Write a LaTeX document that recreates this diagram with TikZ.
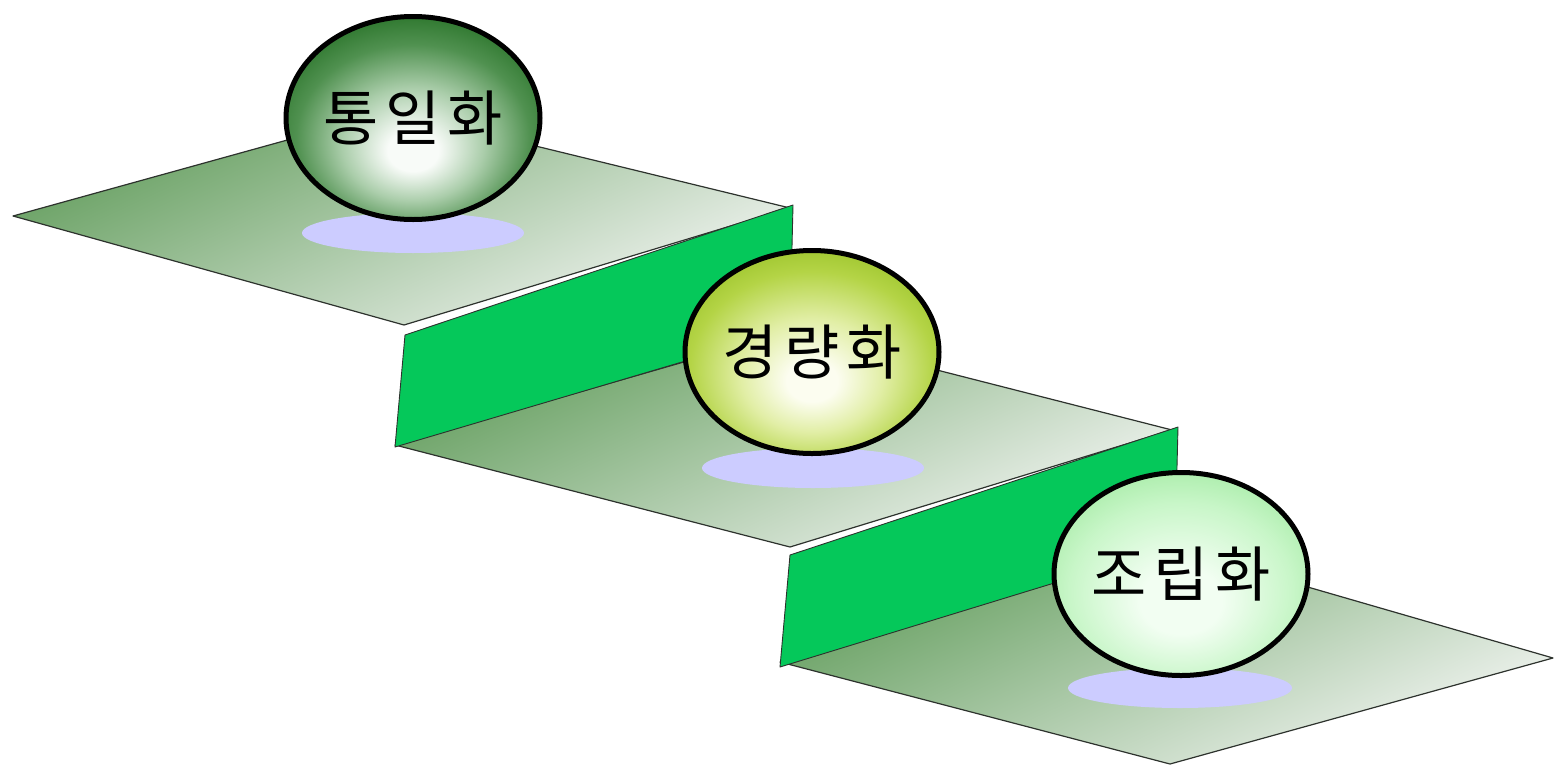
\documentclass[tikz,border=0pt]{standalone}
\usepackage{fontspec}
\newfontfamily\krfont{Noto Sans CJK KR}
\usetikzlibrary{shapes.geometric}
\definecolor{planedark}{RGB}{100,158,94}
\definecolor{planelight}{RGB}{243,245,243}
\definecolor{risergreen}{RGB}{5,200,90}
\definecolor{edgegray}{RGB}{45,50,45}
\definecolor{shadowblue}{RGB}{204,204,255}
\definecolor{aW}{RGB}{248,251,248}
\definecolor{aL}{RGB}{170,205,170}
\definecolor{aM}{RGB}{80,145,80}
\definecolor{aD}{RGB}{42,116,42}
\definecolor{aE}{RGB}{26,96,26}
\definecolor{bW}{RGB}{252,253,240}
\definecolor{bL}{RGB}{225,238,165}
\definecolor{bM}{RGB}{180,212,70}
\definecolor{bE}{RGB}{138,184,24}
\definecolor{cW}{RGB}{242,254,242}
\definecolor{cM}{RGB}{200,246,200}
\definecolor{cE}{RGB}{150,230,150}
\pgfdeclareradialshading{sphA}{\pgfpoint{0bp}{-9bp}}{color(0bp)=(aW); color(5bp)=(aW); color(14bp)=(aL); color(23bp)=(aM); color(30bp)=(aD); color(35bp)=(aE); color(50bp)=(aE)}
\pgfdeclareradialshading{sphB}{\pgfpoint{0bp}{-8bp}}{color(0bp)=(bW); color(5bp)=(bW); color(14bp)=(bL); color(24bp)=(bM); color(35bp)=(bE); color(50bp)=(bE)}
\pgfdeclareradialshading{sphC}{\pgfpoint{0bp}{-8bp}}{color(0bp)=(cW); color(8bp)=(cW); color(22bp)=(cM); color(35bp)=(cE); color(50bp)=(cE)}
\newcommand{\krgap}{\hspace{7pt}}
\begin{document}
\begin{tikzpicture}[x=1pt,y=-1pt,
  plane/.style={draw=edgegray, line width=1.2pt, line join=round,
    top color=planedark, bottom color=planelight, shading angle=25},
  riser/.style={draw=edgegray, line width=0.9pt, line join=round, fill=risergreen},
  shadowell/.style={fill=shadowblue, draw=none},
  sphere/.style={ellipse, draw=black, line width=5pt, shade,
    minimum width=253pt, minimum height=203pt, inner sep=0pt,
    font=\krfont\fontsize{60}{64}\selectfont, text=black}]
\useasboundingbox (0,0) rectangle (1555,766);

% step 1
\path[plane] (13,216) -- (392,111) -- (790,208) -- (404,325) -- cycle;
\path[shadowell] (413,233) ellipse [x radius=111, y radius=20];
\node[sphere, shading=sphA] (s1) at (413,118) {\raisebox{-4pt}{통\krgap 일\krgap 화}};

% step 2
\path[plane] (395,445) -- (788,332) -- (1172,430) -- (790,547) -- cycle;
\path[riser] (405,335) -- (793,205) -- (790,330) -- (395,447) -- cycle;
\path[shadowell] (813,468) ellipse [x radius=111, y radius=20];
\node[sphere, shading=sphB] (s2) at (812,352) {\raisebox{-4pt}{경\krgap 량\krgap 화}};

% step 3
\path[plane] (780,662) -- (1173,548) -- (1553,658) -- (1170,764) -- cycle;
\path[riser] (790,555) -- (1178,427) -- (1175,546) -- (780,667) -- cycle;
\path[shadowell] (1180,688) ellipse [x radius=112, y radius=20];
\node[sphere, shading=sphC] (s3) at (1181,574) {\raisebox{-4pt}{조\krgap 립\krgap 화}};
\end{tikzpicture}
\end{document}
